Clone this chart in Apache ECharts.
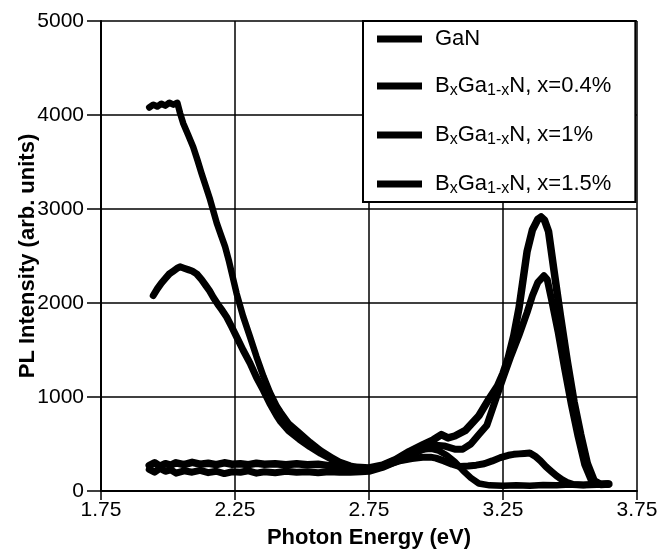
<!DOCTYPE html>
<html>
<head>
<meta charset="utf-8">
<script src="https://cdn.jsdelivr.net/npm/echarts@6/dist/echarts.min.js"></script>
<style>
html,body{margin:0;padding:0;background:#fff;}
#c{width:661px;height:557px;}
</style>
</head>
<body>
<div id="c"></div>
<script>
// ---- data (x = photon energy in eV, y = PL intensity, arb. units) ----
const seriesNames = ['GaN', 'BxGa1-xN, x=0.4%', 'BxGa1-xN, x=1%', 'BxGa1-xN, x=1.5%'];

const ganData = [
  [1.930,270],[1.950,300],[1.970,265],[1.990,290],[2.010,275],[2.030,300],[2.060,280],[2.090,305],
  [2.120,285],[2.150,295],[2.180,280],[2.210,300],[2.240,285],[2.270,290],[2.300,280],[2.330,295],
  [2.360,285],[2.400,290],[2.440,280],[2.480,290],[2.520,280],[2.560,285],[2.600,270],[2.640,265],
  [2.680,255],[2.720,250],[2.750,245],[2.800,275],[2.850,335],[2.900,420],[2.950,490],[2.990,545],
  [3.020,600],[3.045,565],[3.070,585],[3.110,645],[3.160,800],[3.200,990],[3.230,1120],[3.250,1250],
  [3.270,1420],[3.290,1650],[3.310,1950],[3.325,2250],[3.340,2550],[3.360,2780],[3.380,2890],[3.392,2915],
  [3.405,2880],[3.420,2760],[3.440,2350],[3.465,1850],[3.490,1380],[3.515,950],[3.540,600],[3.565,290],
  [3.590,110],[3.615,70],[3.645,75]
];

const b04Data = [
  [1.930,230],[1.950,200],[1.970,240],[1.990,210],[2.010,225],[2.030,190],[2.060,215],[2.090,200],
  [2.120,220],[2.150,195],[2.180,210],[2.210,185],[2.240,205],[2.270,200],[2.300,215],[2.330,190],
  [2.360,205],[2.400,195],[2.440,210],[2.480,200],[2.520,205],[2.560,195],[2.600,205],[2.640,200],
  [2.680,200],[2.720,205],[2.750,210],[2.800,250],[2.850,310],[2.900,380],[2.950,440],[2.990,490],
  [3.030,480],[3.070,445],[3.100,445],[3.130,500],[3.160,600],[3.190,700],[3.220,950],[3.250,1200],
  [3.280,1440],[3.310,1660],[3.340,1900],[3.360,2080],[3.380,2220],[3.403,2290],[3.415,2250],[3.430,2050],
  [3.455,1700],[3.480,1300],[3.505,920],[3.530,580],[3.555,280],[3.580,110],[3.610,70],[3.640,75]
];

const b1Data = [
  [1.945,2080],[1.960,2150],[1.975,2210],[1.990,2260],[2.005,2310],[2.020,2340],[2.035,2370],[2.045,2385],
  [2.060,2370],[2.075,2355],[2.090,2340],[2.107,2310],[2.125,2250],[2.140,2190],[2.155,2130],[2.169,2060],
  [2.185,1990],[2.200,1930],[2.219,1850],[2.237,1750],[2.256,1640],[2.280,1500],[2.306,1360],[2.330,1210],
  [2.356,1070],[2.380,930],[2.406,800],[2.420,740],[2.450,640],[2.490,550],[2.530,470],[2.570,400],
  [2.610,340],[2.640,300],[2.680,260],[2.720,235],[2.750,225],[2.790,250],[2.830,290],[2.870,325],
  [2.910,345],[2.950,360],[2.980,360],[3.000,350],[3.030,320],[3.060,285],[3.090,260],[3.120,265],
  [3.150,275],[3.180,290],[3.210,320],[3.240,355],[3.270,380],[3.290,390],[3.310,395],[3.330,400],
  [3.350,405],[3.370,370],[3.390,320],[3.410,260],[3.430,210],[3.450,160],[3.470,120],[3.490,90],
  [3.510,70],[3.550,65],[3.600,70],[3.640,70]
];

const b15Data = [
  [1.930,4080],[1.945,4110],[1.960,4090],[1.975,4120],[1.990,4100],[2.005,4130],[2.020,4110],[2.035,4130],
  [2.045,4020],[2.057,3910],[2.075,3790],[2.094,3660],[2.110,3520],[2.125,3380],[2.140,3250],[2.157,3100],
  [2.170,2970],[2.182,2850],[2.198,2720],[2.213,2600],[2.228,2440],[2.242,2270],[2.256,2100],[2.280,1860],
  [2.306,1640],[2.330,1430],[2.356,1220],[2.380,1050],[2.406,900],[2.420,840],[2.450,720],[2.490,620],
  [2.530,520],[2.570,430],[2.610,360],[2.640,310],[2.680,270],[2.720,240],[2.750,225],[2.790,260],
  [2.830,310],[2.870,360],[2.910,410],[2.950,440],[2.980,450],[3.010,430],[3.040,380],[3.070,310],
  [3.100,220],[3.130,140],[3.160,80],[3.200,60],[3.250,55],[3.300,60],[3.350,55],[3.400,65],
  [3.450,60],[3.500,70],[3.550,65],[3.600,75],[3.640,80]
];

const xTickMin = 1.75, xTickMax = 3.75, xTickStep = 0.5;
const yTickMin = 0, yTickMax = 5000, yTickStep = 1000;

// ---- chart ----
const FONT = 'Liberation Sans, Arial, Helvetica, sans-serif';
const legendLabels = {
  'GaN': '{n|GaN}',
  'BxGa1-xN, x=0.4%': '{n|B}{s|x}{n|Ga}{s|1-x}{n|N, x=0.4%}',
  'BxGa1-xN, x=1%': '{n|B}{s|x}{n|Ga}{s|1-x}{n|N, x=1%}',
  'BxGa1-xN, x=1.5%': '{n|B}{s|x}{n|Ga}{s|1-x}{n|N, x=1.5%}'
};
const dataSets = [ganData, b04Data, b1Data, b15Data];
const widths = [7.5, 7, 7, 6.5];

const chart = echarts.init(document.getElementById('c'), null, {renderer: 'canvas'});
chart.setOption({
  animation: false,
  backgroundColor: '#fff',
  textStyle: {fontFamily: FONT},
  grid: {left: 101, right: 24, top: 21, bottom: 66},
  legend: {
    orient: 'vertical',
    left: 363, top: 21,
    padding: [7, 24, 5, 14],
    itemGap: 25,
    itemWidth: 45, itemHeight: 7,
    backgroundColor: '#fff',
    borderColor: '#000', borderWidth: 2, borderRadius: 0,
    data: seriesNames.map(n => ({name: n, icon: 'rect', itemStyle: {color: '#000'}})),
    formatter: n => legendLabels[n],
    textStyle: {
      padding: [0, 0, 0, 8],
      rich: {
        n: {fontFamily: FONT, fontSize: 22, color: '#000', lineHeight: 26},
        s: {fontFamily: FONT, fontSize: 16, color: '#000', lineHeight: 12, verticalAlign: 'bottom'}
      }
    }
  },
  xAxis: {
    type: 'value', min: xTickMin, max: xTickMax, interval: xTickStep,
    name: 'Photon Energy (eV)', nameLocation: 'middle', nameGap: 36, nameMoveOverlap: false,
    nameTextStyle: {fontFamily: FONT, fontSize: 22, fontWeight: 'bold', color: '#000'},
    axisLine: {show: true, onZero: false, lineStyle: {color: '#000', width: 2}},
    axisTick: {show: true, inside: false, length: 9, lineStyle: {color: '#000', width: 1.5}},
    axisLabel: {fontFamily: FONT, fontSize: 21, color: '#000', margin: 9, formatter: v => v.toFixed(2)},
    splitLine: {show: true, lineStyle: {color: '#000', width: 1.5}}
  },
  yAxis: {
    type: 'value', min: yTickMin, max: yTickMax, interval: yTickStep,
    name: 'PL Intensity (arb. units)', nameLocation: 'middle', nameGap: 62, nameMoveOverlap: false,
    nameTextStyle: {fontFamily: FONT, fontSize: 22, fontWeight: 'bold', color: '#000'},
    axisLine: {show: true, lineStyle: {color: '#000', width: 2}},
    axisTick: {show: true, inside: false, length: 14, lineStyle: {color: '#000', width: 1.5}},
    axisLabel: {fontFamily: FONT, fontSize: 21, color: '#000', margin: 17, formatter: v => String(v)},
    splitLine: {show: true, lineStyle: {color: '#000', width: 1.5}}
  },
  series: seriesNames.map((n, i) => ({
    name: n, type: 'line', data: dataSets[i],
    showSymbol: false, symbol: 'none', smooth: false,
    lineStyle: {color: '#000', width: widths[i], join: 'round', cap: 'round'},
    itemStyle: {color: '#000'},
    z: 3
  }))
});
</script>
</body>
</html>
